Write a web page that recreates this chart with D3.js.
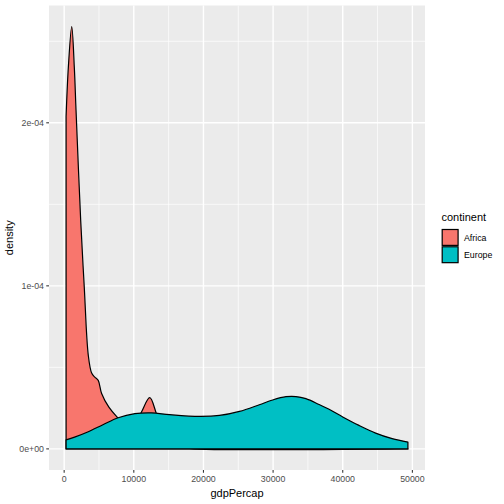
<!DOCTYPE html>
<html><head><meta charset="utf-8">
<script src="https://cdn.jsdelivr.net/npm/d3@7"></script>
<style>body{margin:0;background:#fff}text{font-family:"Liberation Sans",Arial,sans-serif}</style>
</head><body><svg id="c" width="504" height="504"></svg>
<script>
const continents = ["Africa", "Europe"];
const colors = ["#F8766D", "#00BFC4"];
const africaX = [277, 601, 1087, 1459, 1702, 2375, 2890, 3462, 3948, 4400, 4893, 5379, 6423, 7611, 9000, 10200, 11101, 12289, 13247, 14500, 16000, 18000, 49357];
const africaY = [2.04e-4, 2.34e-4, 2.59e-4, 2.34e-4, 2.08e-4, 1.40e-4, 0.99e-4, 0.575e-4, 0.465e-4, 0.44e-4, 0.42e-4, 0.34e-4, 0.256e-4, 0.195e-4, 0.14e-4, 0.15e-4, 0.226e-4, 0.314e-4, 0.216e-4, 0.07e-4, 0.01e-4, 0, 0];
const europeX = [277, 1500, 3462, 5565, 7754, 10143, 12532, 15150, 19442, 22303, 25164, 28026, 29929, 31846, 33276, 34707, 36610, 38300, 40000, 42332, 44721, 47096, 49357];
const europeY = [0.055e-4, 0.072e-4, 0.105e-4, 0.148e-4, 0.191e-4, 0.216e-4, 0.221e-4, 0.210e-4, 0.199e-4, 0.205e-4, 0.230e-4, 0.271e-4, 0.300e-4, 0.320e-4, 0.321e-4, 0.308e-4, 0.272e-4, 0.237e-4, 0.196e-4, 0.144e-4, 0.097e-4, 0.063e-4, 0.042e-4];
const xTicks = [0, 10000, 20000, 30000, 40000, 50000];
const xMinor = [5000, 15000, 25000, 35000, 45000];
const yTicks = [0, 1e-4, 2e-4];
const yTickLabels = ["0e+00", "1e-04", "2e-04"];
const yMinor = [0.5e-4, 1.5e-4, 2.5e-4];

const series = [
  {name: continents[0], color: colors[0], pts: africaX.map((x, i) => [x, africaY[i]])},
  {name: continents[1], color: colors[1], pts: europeX.map((x, i) => [x, europeY[i]])}
];

const L = 49, R = 425, T = 5.5, B = 470;
const xmin = 277.55, xmax = 49357.19;
const xr = xmax - xmin;
const x = d3.scaleLinear().domain([xmin - 0.05 * xr, xmax + 0.05 * xr]).range([L, R]);
const ymax = d3.max(africaY.concat(europeY));
const y = d3.scaleLinear().domain([-0.05 * ymax, 1.05 * ymax]).range([B, T]);

const svg = d3.select("#c");
svg.append("rect").attr("x", L).attr("y", T).attr("width", R - L).attr("height", B - T).attr("fill", "#EBEBEB");
const g = svg.append("g");
xMinor.forEach(v => g.append("line").attr("x1", x(v)).attr("x2", x(v)).attr("y1", T).attr("y2", B).attr("stroke", "#fff").attr("stroke-width", 0.71));
yMinor.forEach(v => g.append("line").attr("y1", y(v)).attr("y2", y(v)).attr("x1", L).attr("x2", R).attr("stroke", "#fff").attr("stroke-width", 0.71));
xTicks.forEach(v => g.append("line").attr("x1", x(v)).attr("x2", x(v)).attr("y1", T).attr("y2", B).attr("stroke", "#fff").attr("stroke-width", 1.42));
yTicks.forEach(v => g.append("line").attr("y1", y(v)).attr("y2", y(v)).attr("x1", L).attr("x2", R).attr("stroke", "#fff").attr("stroke-width", 1.42));

const area = d3.area().x(d => x(d[0])).y0(y(0)).y1(d => y(Math.max(0, d[1]))).curve(d3.curveCatmullRom.alpha(0.5));
series.forEach(s => {
  svg.append("path").attr("d", area(s.pts)).attr("fill", s.color).attr("stroke", "#000").attr("stroke-width", 1.2).attr("stroke-linejoin", "round");
});

// axes
const ax = svg.append("g");
xTicks.forEach(v => {
  ax.append("line").attr("x1", x(v)).attr("x2", x(v)).attr("y1", B).attr("y2", B + 2.75).attr("stroke", "#333").attr("stroke-width", 1.07);
  ax.append("text").attr("x", x(v)).attr("y", B + 12).attr("text-anchor", "middle").attr("font-size", 8.8).attr("fill", "#4D4D4D").text(d3.format("d")(v));
});
yTicks.forEach((v, i) => {
  ax.append("line").attr("x1", L - 2.75).attr("x2", L).attr("y1", y(v)).attr("y2", y(v)).attr("stroke", "#333").attr("stroke-width", 1.07);
  ax.append("text").attr("x", L - 5).attr("y", y(v)).attr("dy", "0.35em").attr("text-anchor", "end").attr("font-size", 8.8).attr("fill", "#4D4D4D").text(yTickLabels[i]);
});
svg.append("text").attr("x", (L + R) / 2).attr("y", 497).attr("text-anchor", "middle").attr("font-size", 11).attr("fill", "#000").text("gdpPercap");
svg.append("text").attr("transform", `translate(13,${(T + B) / 2}) rotate(-90)`).attr("text-anchor", "middle").attr("font-size", 11).attr("fill", "#000").text("density");

// legend
const lg = svg.append("g");
lg.append("text").attr("x", 441.5).attr("y", 221).attr("font-size", 11).text("continent");
series.forEach((s, i) => {
  const ky = 228.8 + i * 17.28;
  lg.append("rect").attr("x", 441.5).attr("y", ky).attr("width", 17.28).attr("height", 17.28).attr("fill", "#F2F2F2");
  lg.append("rect").attr("x", 442.2).attr("y", ky + 0.7).attr("width", 15.88).attr("height", 15.88).attr("fill", s.color).attr("stroke", "#000").attr("stroke-width", 1.2);
  lg.append("text").attr("x", 464).attr("y", ky + 8.64).attr("dy", "0.35em").attr("font-size", 8.8).text(s.name);
});
</script></body></html>
